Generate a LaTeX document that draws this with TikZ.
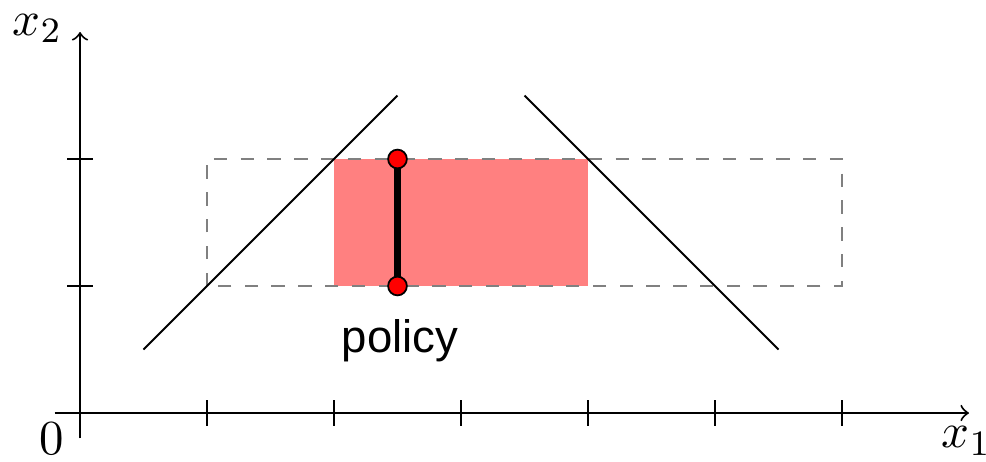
\documentclass[tikz,border=0pt]{standalone}
\usepackage{fontspec}
\newfontfamily\labelsans{Liberation Sans}
\begin{document}
\begin{tikzpicture}[x=1cm,y=1cm,
  axisline/.style={line width=0.45pt,->},
  tickline/.style={line width=0.45pt},
  boundline/.style={line width=0.45pt},
  dashbox/.style={draw=gray,dashed,line width=0.45pt},
  redregion/.style={fill=red!50,draw=none},
  policyline/.style={line width=1.6pt,black},
  enddot/.style={circle,fill=red,draw=black,line width=0.4pt,inner sep=0pt,minimum size=4.2pt},
  mathlabel/.style={font=\fontsize{11}{13}\selectfont,inner sep=0pt}
]
\useasboundingbox (-0.630,-0.378) rectangle (7.134,3.252);
% red region
\fill[redregion] (2,1) rectangle (4,2);
% dashed box
\draw[dashbox] (1,1) rectangle (6,2);
% axes
\coordinate (xstart) at (-0.2,0);
\coordinate (xend) at (7,0);
\coordinate (ystart) at (0,-0.2);
\coordinate (yend) at (0,3);
\draw[axisline] (xstart) -- (xend);
\draw[axisline] (ystart) -- (yend);
\foreach \i in {1,...,6} { \draw[tickline] (\i,-0.1) -- (\i,0.1); }
\foreach \j in {1,2} { \draw[tickline] (-0.1,\j) -- (0.1,\j); }
% labels
\node[mathlabel] (lx2) at (-0.335,3.03) {$x_2$};
\node[mathlabel] (lx1) at (6.98,-0.22) {$x_1$};
\node[mathlabel] (lzero) at (-0.22,-0.2) {$0$};
% boundary lines
\coordinate (la) at (0.5,0.5);
\coordinate (lb) at (2.5,2.5);
\coordinate (ra) at (3.5,2.5);
\coordinate (rb) at (5.5,0.5);
\draw[boundline] (la) -- (lb);
\draw[boundline] (ra) -- (rb);
% policy
\coordinate (pb) at (2.5,1);
\coordinate (pt) at (2.5,2);
\draw[policyline] (pb) -- (pt);
\node[enddot] (pbot) at (pb) {};
\node[enddot] (ptop) at (pt) {};
\node[font=\labelsans\fontsize{10.2}{12}\selectfont,anchor=base,inner sep=0pt] (plabel) at (2.52,0.48) {policy};
\end{tikzpicture}
\end{document}
